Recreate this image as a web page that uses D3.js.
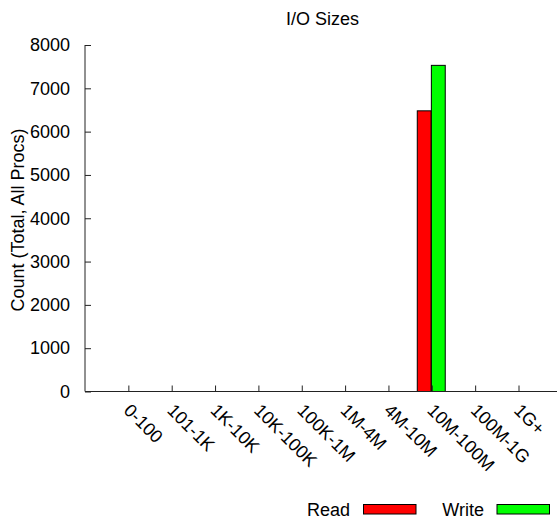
<!DOCTYPE html>
<html>
<head>
<meta charset="utf-8">
<script src="https://cdn.jsdelivr.net/npm/d3@7/dist/d3.min.js"></script>
<style>
  html, body { margin: 0; padding: 0; background: #fff; }
  svg { display: block; font-family: "Liberation Sans", Arial, sans-serif; }
</style>
</head>
<body>
<svg id="chart" width="557" height="521"></svg>
<script>
const categories = ["0-100", "101-1K", "1K-10K", "10K-100K", "100K-1M", "1M-4M", "4M-10M", "10M-100M", "100M-1G", "1G+"];
const readValues = [0, 0, 0, 0, 0, 0, 0, 6480, 0, 0];
const writeValues = [0, 0, 0, 0, 0, 0, 0, 7530, 0, 0];
const yTicks = [0, 1000, 2000, 3000, 4000, 5000, 6000, 7000, 8000];
const seriesNames = ["Read", "Write"];
const seriesColors = ["#ff0000", "#00ff00"];

(function () {
const svg = d3.select("#chart");
const fs = 18;
const mLeft = 85, mBottom = 391.5, mTop = 45, unit = 43.35;

const x = d3.scaleLinear().domain([0, categories.length + 1]).range([mLeft, mLeft + unit * (categories.length + 1)]);
const y = d3.scaleLinear().domain([0, 8000]).range([mBottom, mTop]);

// Title
svg.append("text").attr("x", 322.5).attr("y", 25).attr("text-anchor", "middle")
  .attr("font-size", fs).attr("fill", "#000").text("I/O Sizes");

// Bars
const boxW = 0.32;
const barData = [];
categories.forEach((c, i) => {
  barData.push({ s: 0, i, v: readValues[i], x0: i + 1 - 0.335 });
  barData.push({ s: 1, i, v: writeValues[i], x0: i + 1 - 0.01 });
});
svg.append("g").selectAll("rect").data(barData.filter(d => d.v > 0)).join("rect")
  .attr("x", d => x(d.x0))
  .attr("width", d => x(d.x0 + boxW) - x(d.x0))
  .attr("y", d => y(d.v))
  .attr("height", d => y(0) - y(d.v))
  .attr("fill", d => seriesColors[d.s])
  .attr("stroke", "#000").attr("stroke-width", 1);

// Y axis
const yAxis = svg.append("g").attr("transform", `translate(${mLeft},0)`)
  .call(d3.axisLeft(y).tickValues(yTicks).tickSize(-6).tickPadding(15).tickFormat(d3.format("d")));
yAxis.select(".domain").attr("stroke", "#222").attr("d", `M0,${mTop}V${mBottom}`);
yAxis.selectAll(".tick line").attr("stroke", "#222");
yAxis.selectAll(".tick text").attr("font-size", fs).attr("font-family", "Liberation Sans, Arial, sans-serif").attr("fill", "#000");

// X axis
const xAxis = svg.append("g").attr("transform", `translate(0,${mBottom})`)
  .call(d3.axisBottom(x).tickValues(d3.range(1, categories.length + 1)).tickSize(-6).tickFormat(d => categories[d - 1]));
xAxis.select(".domain").attr("stroke", "#222").attr("d", `M${mLeft},0H557`);
xAxis.selectAll(".tick line").attr("stroke", "#222");
xAxis.selectAll(".tick text")
  .attr("font-size", fs).attr("font-family", "Liberation Sans, Arial, sans-serif").attr("fill", "#000")
  .attr("text-anchor", "start").attr("dy", null)
  .attr("y", 0)
  .attr("transform", "translate(-6,20) rotate(45)");

// Y title
svg.append("text").attr("transform", "translate(24,220) rotate(-90)")
  .attr("text-anchor", "middle").attr("font-size", fs).attr("fill", "#000")
  .text("Count (Total, All Procs)");

// Legend
const legend = [
  { name: seriesNames[0], color: seriesColors[0], tx: 350, bx: 363.5 },
  { name: seriesNames[1], color: seriesColors[1], tx: 484, bx: 497 }
];
const lg = svg.append("g");
legend.forEach(l => {
  lg.append("text").attr("x", l.tx).attr("y", 516).attr("text-anchor", "end")
    .attr("font-size", fs).attr("fill", "#000").text(l.name);
  lg.append("rect").attr("x", l.bx).attr("y", 504.5).attr("width", 52.5).attr("height", 9.5)
    .attr("fill", l.color).attr("stroke", "#000").attr("stroke-width", 1);
});
})();
</script>
</body>
</html>
